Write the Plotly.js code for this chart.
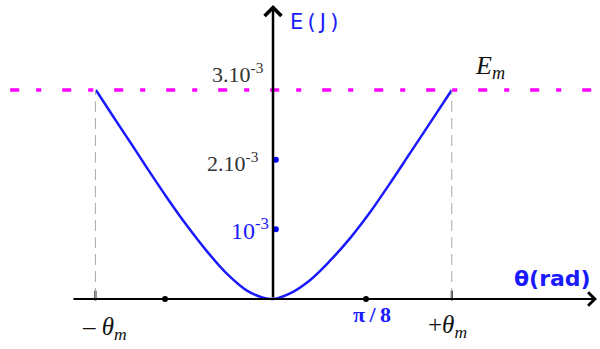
<!DOCTYPE html>
<html>
<head>
<meta charset="utf-8">
<script src="https://cdn.plot.ly/plotly-3.0.1.min.js"></script>
<style>
  html, body { margin: 0; padding: 0; background: #fff; }
  #graph { width: 600px; height: 349px; }
</style>
</head>
<body>
<div id="graph"></div>
<script>
// Energie du pendule E(theta)
const theta = [-0.748, -0.675, -0.603, -0.532, -0.447, -0.363, -0.278, -0.194, -0.110, -0.042, 0,
               0.072, 0.156, 0.241, 0.325, 0.409, 0.494, 0.578, 0.662, 0.755];
const energie = [3.0e-3, 2.62e-3, 2.25e-3, 1.88e-3, 1.45e-3, 1.05e-3, 0.68e-3, 0.36e-3, 0.12e-3, 0.02e-3, 0,
                 0.08e-3, 0.27e-3, 0.55e-3, 0.87e-3, 1.24e-3, 1.66e-3, 2.09e-3, 2.52e-3, 3.0e-3];

const thetaM = [-0.75, 0.755];
const Em = 3e-3;
const yGraduations = [1e-3, 2e-3];
const xGraduations = [-0.456, Math.PI / 8];

const bleu = '#1a1aff';

// Courbe E(theta)
const traceCourbe = {
    x: theta,
    y: energie,
    mode: 'lines',
    line: { color: bleu, width: 2.5, shape: 'spline', smoothing: 1 },
    hoverinfo: 'skip'
};

// Graduations sur les axes
const traceGradX = {
    x: xGraduations,
    y: xGraduations.map(() => 0),
    mode: 'markers',
    marker: { color: '#000', size: 6 },
    hoverinfo: 'skip'
};
const traceGradM = {
    x: thetaM,
    y: thetaM.map(() => 0.05e-3),
    mode: 'markers',
    marker: { symbol: 'line-ns', size: 7, line: { color: '#000', width: 2 } },
    hoverinfo: 'skip'
};
const traceGradY = {
    x: yGraduations.map(() => 0.012),
    y: yGraduations,
    mode: 'markers',
    marker: { color: '#0000ff', size: 6 },
    hoverinfo: 'skip'
};

// Lignes pointillées verticales et droite E = Em
const formes = thetaM.map(t => ({
    type: 'line', xref: 'x', yref: 'y',
    x0: t, x1: t, y0: 0, y1: Em,
    line: { color: '#aaaaaa', width: 1, dash: '11px,6px' }
}));
formes.push({
    type: 'line', xref: 'paper', yref: 'y',
    x0: 0.017, x1: 1, y0: Em, y1: Em,
    line: { color: '#ff00ff', width: 3.5, dash: '9px,17px,5px,21px' }
});

const serif = 'Liberation Serif, Times New Roman, serif';
const sans = 'DejaVu Sans, Verdana, sans-serif';
const fin = '\u2009';

const annotations = [
    // axes avec flèches
    { x: 1.368, y: 0, ax: -0.849, ay: 0, xref: 'x', yref: 'y', axref: 'x', ayref: 'y',
      text: '', showarrow: true, arrowhead: 4, arrowsize: 1.3, arrowwidth: 2, arrowcolor: '#000', standoff: 0 },
    { x: 0, y: 4.22e-3, ax: 0, ay: 0, xref: 'x', yref: 'y', axref: 'x', ayref: 'y',
      text: '', showarrow: true, arrowhead: 4, arrowsize: 1.3, arrowwidth: 2.5, arrowcolor: '#000', standoff: 0 },
    // textes
    { x: 0.063, y: 3.976e-3, text: ['E', '(', 'J', ')'].join(fin), xanchor: 'left', showarrow: false,
      font: { family: sans, size: 21, color: bleu } },
    { x: -0.03, y: 3.25e-3, text: '3.10<sup>-3</sup>', xanchor: 'right', showarrow: false,
      font: { family: serif, size: 22, color: '#333' } },
    { x: -0.05, y: 1.97e-3, text: '2.10<sup>-3</sup>', xanchor: 'right', showarrow: false,
      font: { family: serif, size: 22, color: '#333' } },
    { x: -0.01, y: 1.01e-3, text: '10<sup>-3</sup>', xanchor: 'right', showarrow: false,
      font: { family: serif, size: 24, color: bleu } },
    { x: Math.PI / 8 + 0.025, y: -0.22e-3, text: '<b>π' + fin + '/' + fin + '8</b>', showarrow: false,
      font: { family: serif, size: 22, color: bleu } },
    { x: 1.179, y: 0.30e-3, text: '<b>θ(rad)</b>', showarrow: false,
      font: { family: sans, size: 22, color: bleu } },
    { x: -0.71, y: -0.43e-3, text: '– <i>θ</i><sub><i>m</i></sub>', showarrow: false,
      font: { family: serif, size: 25, color: '#111' } },
    { x: 0.735, y: -0.40e-3, text: '+<i>θ</i><sub><i>m</i></sub>', showarrow: false,
      font: { family: serif, size: 25, color: '#111' } },
    { x: 0.915, y: 3.33e-3, text: '<i>E</i><sub><i>m</i></sub>', showarrow: false,
      font: { family: serif, size: 26, color: '#111' } }
];

const layout = {
    width: 600,
    height: 349,
    margin: { l: 0, r: 0, t: 0, b: 0 },
    paper_bgcolor: '#fff',
    plot_bgcolor: '#fff',
    showlegend: false,
    xaxis: { range: [-1.153, 1.381], visible: false, fixedrange: true },
    yaxis: { range: [-0.7177e-3, 4.2917e-3], visible: false, fixedrange: true },
    shapes: formes,
    annotations: annotations
};

Plotly.newPlot('graph', [traceCourbe, traceGradX, traceGradM, traceGradY], layout,
    { staticPlot: true, displayModeBar: false });
</script>
</body>
</html>
